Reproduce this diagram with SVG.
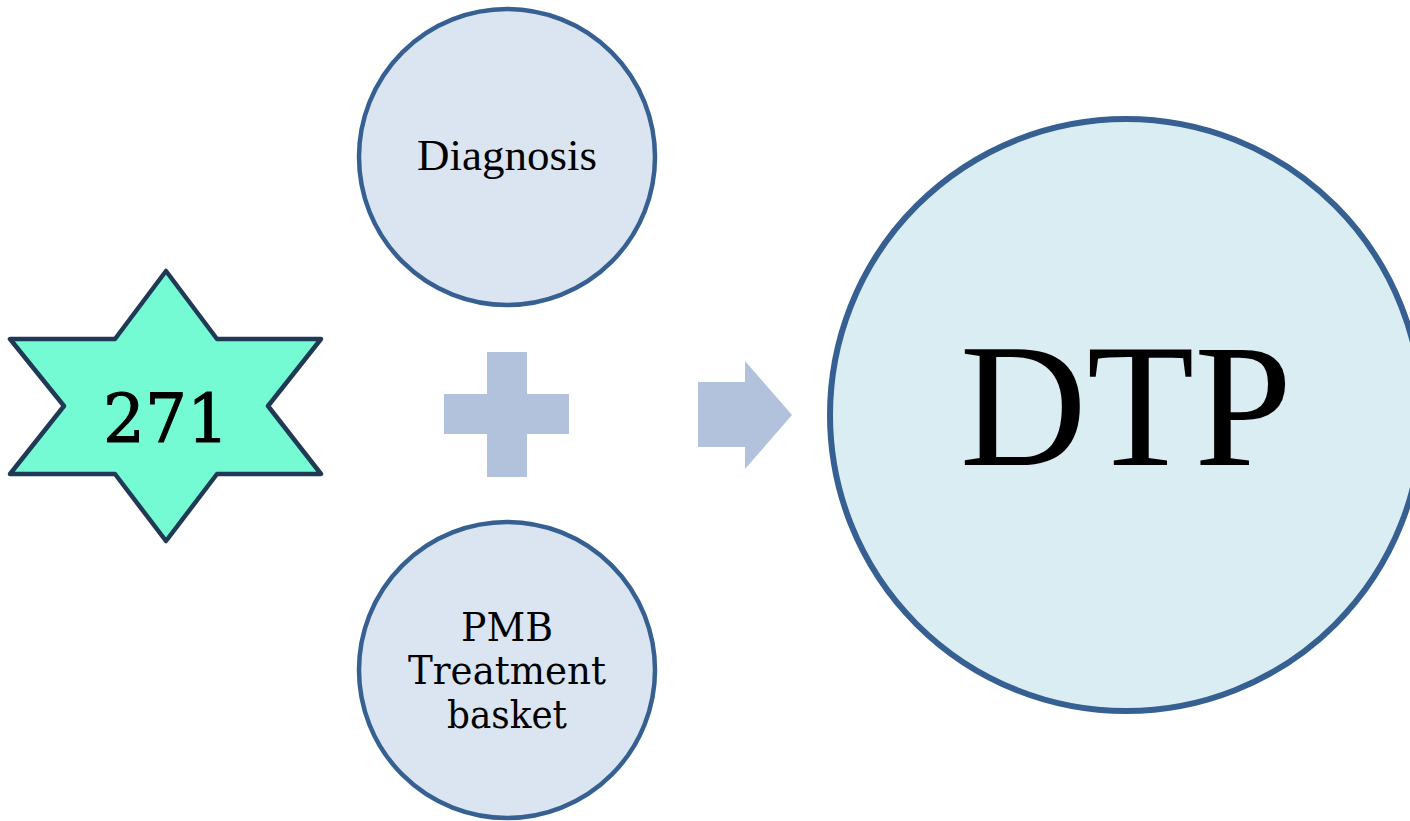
<svg xmlns="http://www.w3.org/2000/svg" width="1410" height="821" viewBox="0 0 1410 821">
<style>
.bg{fill:#ffffff}
.circ{fill:#dbe5f1;stroke:#376092;stroke-width:4.5}
.big{fill:#daedf3;stroke:#376092;stroke-width:6}
.star{fill:#74fbd4;stroke:#203a55;stroke-width:4.5;stroke-linejoin:round}
.op{fill:#b2c2dc}
.times{font-family:"Liberation Serif","Times New Roman",serif;fill:#000;text-anchor:middle}
.cent{font-family:"DejaVu Serif",Georgia,serif;fill:#000;text-anchor:middle}
</style>
<rect class="bg" x="0" y="0" width="1410" height="821"/>
<g id="star271">
<polygon class="star" points="166,271 217,339 321,339 268,406 321,474 217,474 166,541 115,474 10,474 64,406 10,339 115,339"/>
<text class="cent" x="166" y="442" font-size="67" stroke="#000" stroke-width="1" textLength="126" lengthAdjust="spacingAndGlyphs">271</text>
</g>
<g id="diagnosis">
<circle class="circ" cx="507" cy="157" r="148"/>
<text class="times" x="507" y="170" font-size="45">Diagnosis</text>
</g>
<g id="pmb">
<circle class="circ" cx="507" cy="670" r="148"/>
<text class="cent" x="507" y="641" font-size="39" textLength="92" lengthAdjust="spacingAndGlyphs">PMB</text>
<text class="cent" x="507" y="684" font-size="39" textLength="198" lengthAdjust="spacingAndGlyphs">Treatment</text>
<text class="cent" x="507" y="728" font-size="39" textLength="120" lengthAdjust="spacingAndGlyphs">basket</text>
</g>
<g id="connectors">
<path id="plus" class="op" d="M487,352 H527 V394 H569 V434 H527 V477 H487 V434 H444 V394 H487 Z"/>
<polygon id="arrow" class="op" points="698,382 745,382 745,361 792,415 745,469 745,447 698,447"/>
</g>
<g id="dtp">
<circle class="big" cx="1126" cy="415" r="296"/>
<text class="times" x="1126" y="465" font-size="176">DTP</text>
</g>
</svg>
